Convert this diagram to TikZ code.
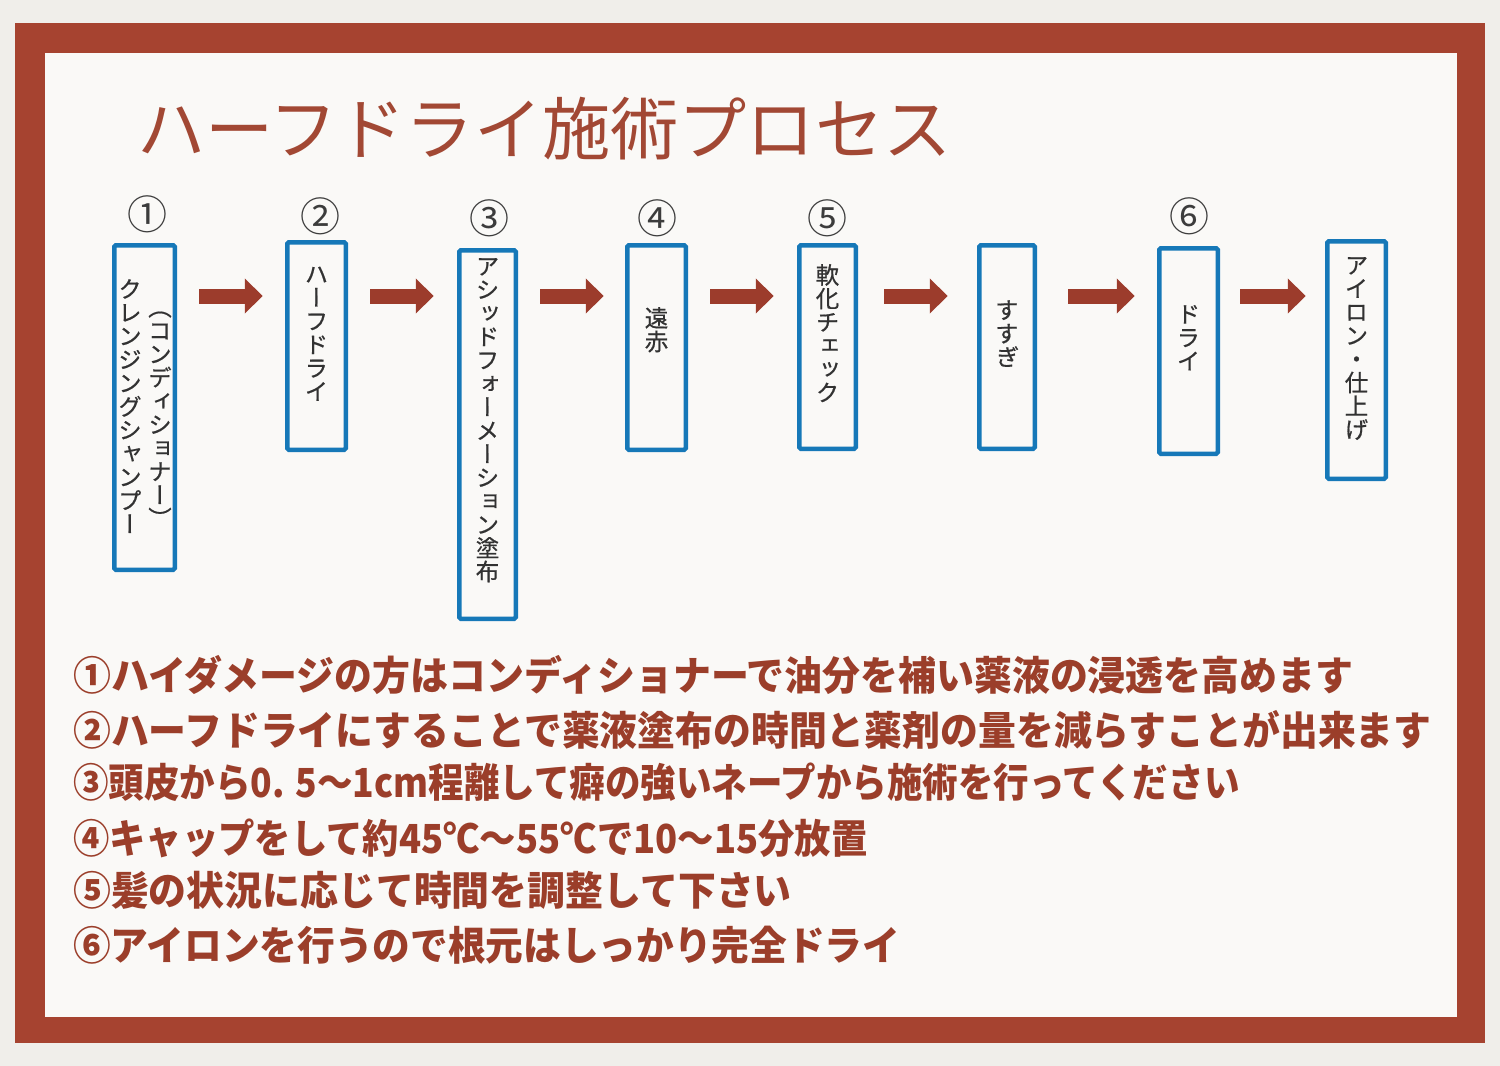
\documentclass[tikz,border=0pt]{standalone}
\usepackage{fontspec}
\usepackage{graphicx}
\usetikzlibrary{arrows.meta}
\setmainfont{Noto Sans CJK JP}
\newfontfamily\jp{Noto Sans CJK JP}
\newfontfamily\tatefont[RawFeature=+vert,FakeBold=0.6]{Noto Sans CJK JP}
\definecolor{paper}{RGB}{240,238,234}
\definecolor{frame}{RGB}{166,67,48}
\definecolor{innerw}{RGB}{250,249,247}
\definecolor{boxblue}{RGB}{22,120,184}
\definecolor{arrowred}{RGB}{156,60,44}
\definecolor{titlered}{RGB}{162,72,52}
\definecolor{notered}{RGB}{155,62,42}
\definecolor{vgray}{RGB}{50,50,50}
\definecolor{numgray}{RGB}{60,60,60}
\ExplSyntaxOn
\NewDocumentCommand\tate{m}{
  \vbox{\offinterlineskip
    \tl_map_inline:nn {#1} {
      \hbox_to_wd:nn {1em} { \hss \rule[-.12em]{0pt}{1em} ##1 \hss }
    }
  }
}
\ExplSyntaxOff
\begin{document}
\begin{tikzpicture}[x=1pt,y=-1pt,
  box/.style={draw=boxblue, line width=4.5pt, inner sep=0pt, rounded corners=1.5pt},
  vtext/.style={anchor=north, inner sep=0pt, text=vgray, font=\tatefont\fontsize{23.5pt}{23.5pt}\selectfont},
  num/.style={inner sep=0pt, text=numgray, font=\jp\fontsize{40pt}{40pt}\selectfont},
  note/.style={anchor=base west, inner sep=0pt, text=notered, font=\jp\bfseries\fontsize{40pt}{42pt}\selectfont},
  titlestyle/.style={anchor=base west, inner sep=0pt, text=titlered, font=\jp\fontsize{68.2pt}{70pt}\selectfont},
  bigarrow/.style={draw=arrowred, line width=15pt, -{Triangle[length=18pt,width=34pt]}},
]
\useasboundingbox (0,0) rectangle (1500,1066);
\fill[paper] (0,0) rectangle (1500,1066);
\fill[frame] (15,23) rectangle (1485,1043);
\fill[innerw] (45,53) rectangle (1457,1017);

\node[titlestyle] (title) at (137,154) {ハーフドライ施術プロセス};

% step boxes
\node[box, minimum width=60.5pt, minimum height=324.5pt] (b1) at (144.5,407.5) {};
\node[box, minimum width=58.5pt, minimum height=207.5pt] (b2) at (316.5,346) {};
\node[box, minimum width=56.5pt, minimum height=368.5pt] (b3) at (487.5,434.5) {};
\node[box, minimum width=58.5pt, minimum height=204.5pt] (b4) at (656.5,347.5) {};
\node[box, minimum width=56.5pt, minimum height=203.5pt] (b5) at (827.5,347) {};
\node[box, minimum width=55.5pt, minimum height=203.5pt] (b6) at (1007,347) {};
\node[box, minimum width=58.5pt, minimum height=205.5pt] (b7) at (1188.5,351) {};
\node[box, minimum width=58.5pt, minimum height=237.5pt] (b8) at (1356.5,360) {};

% vertical texts
\node[vtext] (t1a) at (160,295) {\tate{（コンディショナー）}};
\node[vtext] (t1b) at (130,277) {\tate{クレンジングシャンプー}};
\node[vtext] (t2) at (316.5,262) {\tate{ハーフドライ}};
\node[vtext] (t3) at (487.5,254) {\tate{アシッドフォーメーション塗布}};
\node[vtext] (t4) at (656.5,306) {\tate{遠赤}};
\node[vtext] (t5) at (827.5,263) {\tate{軟化チェック}};
\node[vtext] (t6) at (1007,298) {\tate{すすぎ}};
\node[vtext] (t7) at (1188.5,302) {\tate{ドライ}};
\node[vtext] (t8) at (1356.5,253) {\tate{アイロン・仕上げ}};

% step numbers
\node[num] (n1) at (147,214) {①};
\node[num] (n2) at (320,216) {②};
\node[num] (n3) at (489,218) {③};
\node[num] (n4) at (657,218) {④};
\node[num] (n5) at (827,218) {⑤};
\node[num] (n6) at (1189,216) {⑥};

% arrows
\coordinate (arow) at (0,296);
\draw[bigarrow, shorten <=22.25pt, shorten >=22.25pt] (b1.east |- arow) -- (b2.west |- arow);
\draw[bigarrow, shorten <=22.25pt, shorten >=23.25pt] (b2.east |- arow) -- (b3.west |- arow);
\draw[bigarrow, shorten <=22.25pt, shorten >=21.25pt] (b3.east |- arow) -- (b4.west |- arow);
\draw[bigarrow, shorten <=22.25pt, shorten >=23.25pt] (b4.east |- arow) -- (b5.west |- arow);
\draw[bigarrow, shorten <=26.25pt, shorten >=29.25pt] (b5.east |- arow) -- (b6.west |- arow);
\draw[bigarrow, shorten <=31.25pt, shorten >=22.25pt] (b6.east |- arow) -- (b7.west |- arow);
\draw[bigarrow, shorten <=20.25pt, shorten >=19.25pt] (b7.east |- arow) -- (b8.west |- arow);

% notes
\node[note] (l1) at (73,690) {\scalebox{0.948}[1]{①ハイダメージの方はコンディショナーで油分を補い薬液の浸透を高めます}};
\node[note] (l2) at (73,745) {\scalebox{0.946}[1]{②ハーフドライにすることで薬液塗布の時間と薬剤の量を減らすことが出来ます}};
\node[note] (l3) at (73,797) {\scalebox{0.888}[1]{③頭皮から0. 5～1cm程離して癖の強いネープから施術を行ってください}};
\node[note] (l4) at (73,853) {\scalebox{0.909}[1]{④キャップをして約45℃～55℃で10～15分放置}};
\node[note] (l5) at (73,905) {\scalebox{0.947}[1]{⑤髪の状況に応じて時間を調整して下さい}};
\node[note] (l6) at (73,960) {\scalebox{0.942}[1]{⑥アイロンを行うので根元はしっかり完全ドライ}};
\end{tikzpicture}
\end{document}
